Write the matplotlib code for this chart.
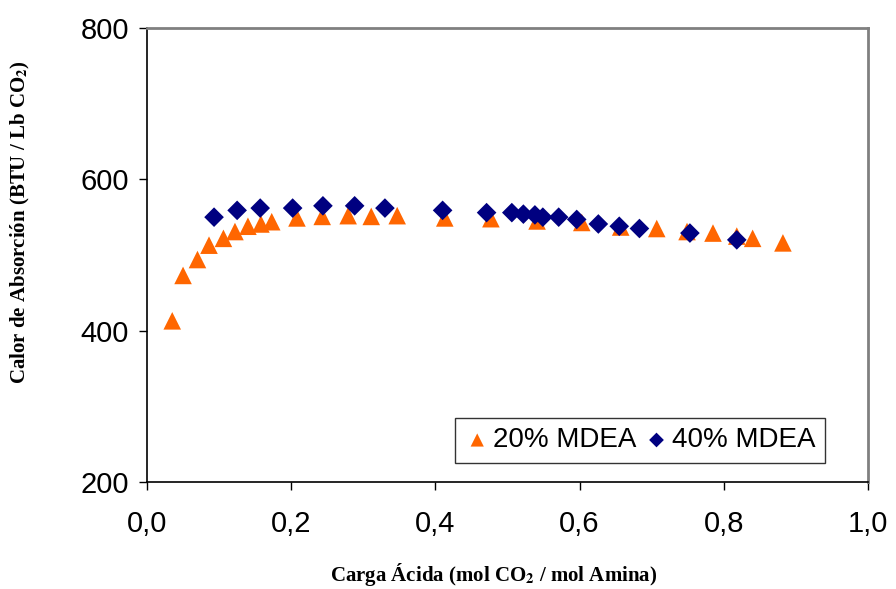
import numpy as np
import matplotlib
matplotlib.use("Agg")
import matplotlib.pyplot as plt
from matplotlib.ticker import FuncFormatter

plt.rcParams["mathtext.fontset"] = "stix"

# 20% MDEA
carga_20 = [0.035, 0.050, 0.070, 0.086, 0.106, 0.122, 0.140, 0.158, 0.173, 0.208,
            0.243, 0.279, 0.311, 0.347, 0.413, 0.477, 0.541, 0.603, 0.657, 0.707,
            0.749, 0.785, 0.818, 0.840, 0.882]
calor_20 = [413, 473, 494, 513, 522, 531, 538, 541, 544, 549,
            551, 552, 551, 552, 549, 548, 545, 543, 537, 535,
            531, 529, 525, 522, 516]

# 40% MDEA
carga_40 = [0.093, 0.125, 0.157, 0.202, 0.244, 0.288, 0.330, 0.410, 0.471, 0.506,
            0.522, 0.538, 0.549, 0.571, 0.596, 0.626, 0.655, 0.683, 0.753, 0.818]
calor_40 = [550, 559, 562, 562, 565, 565, 562, 559, 556, 556,
            554, 553, 550, 550, 547, 541, 538, 535, 529, 520]

x_ticks = [0.0, 0.2, 0.4, 0.6, 0.8, 1.0]
y_ticks = [200, 400, 600, 800]

fig = plt.figure(figsize=(8.96, 5.89), dpi=100)
ax = fig.add_axes([147/896, 1 - 482/589, (868-147)/896, (482-28)/589])

ax.scatter(carga_20, calor_20, marker="^", s=160, color="#FF6600",
           edgecolors="none", label="20% MDEA", zorder=3)
ax.scatter(carga_40, calor_40, marker="D", s=100, color="#000080",
           edgecolors="none", label="40% MDEA", zorder=4)

ax.set_xlim(0, 1.0)
ax.set_ylim(200, 800)
ax.set_xticks(x_ticks)
ax.set_yticks(y_ticks)
ax.xaxis.set_major_formatter(FuncFormatter(lambda v, p: f"{v:.1f}".replace(".", ",")))

for lab in ax.get_xticklabels() + ax.get_yticklabels():
    lab.set_family("Liberation Sans")
    lab.set_fontsize(21)
ax.tick_params(direction="out", length=6, width=1, color="black")
ax.tick_params(axis="x", pad=14)
ax.tick_params(axis="y", pad=7)

ax.spines["left"].set_color("black")
ax.spines["bottom"].set_color("black")
ax.spines["left"].set_linewidth(1.2)
ax.spines["bottom"].set_linewidth(1.2)
ax.spines["top"].set_color("#808080")
ax.spines["right"].set_color("#808080")
ax.spines["top"].set_linewidth(2)
ax.spines["right"].set_linewidth(2)

ax.set_xlabel("Carga Ácida (mol CO$_\\mathbf{2}$ / mol Amina)", fontfamily="Liberation Serif",
              fontweight="bold", fontsize=15, va="center")
ax.set_ylabel("Calor de Absorción (BTU / Lb CO$_\\mathbf{2}$)", fontfamily="Liberation Serif",
              fontweight="bold", fontsize=15, va="center")
ax.xaxis.set_label_coords((494-147)/721, (482-575)/454)
ax.yaxis.set_label_coords((20-147)/721, (482-222)/454)

leg = ax.legend(loc="lower left", bbox_to_anchor=((455-147)/721, (482-463)/454,
                                                  (825-455)/721, (463-412)/454),
                ncol=2, mode="expand", frameon=True, fancybox=False,
                prop={"family": "Liberation Sans", "size": 20},
                handletextpad=0.1, columnspacing=0.2, handlelength=0.9,
                borderaxespad=0, borderpad=0.35, markerscale=0.75)
leg.get_frame().set_edgecolor("black")
leg.get_frame().set_linewidth(1)

fig.savefig("out.png", dpi=100)
